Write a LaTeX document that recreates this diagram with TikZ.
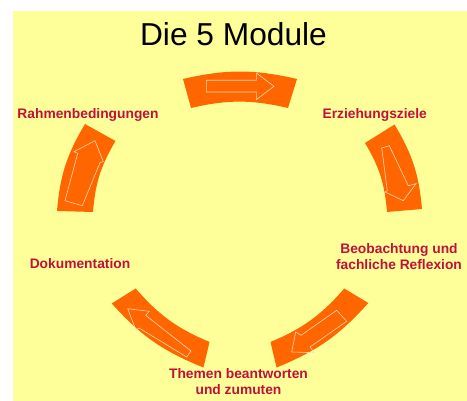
\documentclass[tikz,border=0pt]{standalone}
\usepackage{fontspec}
\usepackage{tikz}
\usetikzlibrary{positioning}
\setmainfont{Liberation Sans}
\definecolor{bgyellow}{HTML}{FFFF99}
\definecolor{arcorange}{HTML}{FF6600}
\definecolor{labelred}{HTML}{C0103C}
\definecolor{arrowline}{HTML}{FFD9B8}

\tikzset{
  band/.style={fill=arcorange},
  hollow/.style={draw=arrowline, line width=0.6pt},
  lbl/.style={text=labelred, font=\bfseries\fontsize{13.8}{16}\selectfont, align=center, inner sep=0pt, anchor=north},
}

\begin{document}
\begin{tikzpicture}[x=1pt,y=1pt]
\useasboundingbox (0,0) rectangle (467,-401);
\fill[white] (0,0) rectangle (467,-401);
\fill[bgyellow] (13,-11) rectangle (467,-401);

% title
\node[font=\fontsize{31.7}{36}\selectfont, inner sep=0pt, anchor=north] (title) at (233.5,-22.5) {Die 5 Module};

% top arc
\fill[band] (183,-79) to[bend left=13] (297,-79) -- (288,-108) to[bend right=13] (191,-108) -- cycle;
\draw[hollow] (206.3,-80.3) -- (256.3,-80.3) -- (256.3,-73) -- (274,-86.3) -- (256.3,-99.7) -- (256.3,-92) -- (206.3,-92) -- cycle;

% upper right arc
\fill[band] (394.5,-124.5) to[bend left=13] (422,-209) -- (387,-212) to[bend right=13] (365,-143) -- cycle;
\draw[hollow] (381.7,-148) -- (389.3,-145.7) -- (408.3,-185.7) -- (416,-183.7) -- (403.3,-200.7) -- (385,-192) -- (387.3,-190.7) -- cycle;

% lower right arc
\fill[band] (368.3,-303) to[bend left=13] (276.5,-367.5) -- (270.5,-342) to[bend right=13] (344.3,-288.5) -- cycle;
\draw[hollow] (336.7,-310.3) -- (346.7,-321.3) -- (310,-347) -- (314.3,-352.7) -- (291.7,-352) -- (295.7,-332) -- (301,-335.3) -- cycle;

% lower left arc
\fill[band] (203.5,-367.5) to[bend left=13] (111.7,-303.5) -- (135.7,-288.5) to[bend right=13] (209.5,-342) -- cycle;
\draw[hollow] (127.7,-308.7) -- (149.3,-311.3) -- (145.7,-315.3) -- (191,-351) -- (186.7,-357) -- (139,-328) -- (136,-330.3) -- cycle;

% upper left arc
\fill[band] (57,-211) to[bend left=13] (85,-124) -- (115.5,-141) to[bend right=13] (93,-212) -- cycle;
\draw[hollow] (95,-140.7) -- (103.3,-161.7) -- (100,-162.7) -- (82.3,-205.7) -- (65,-200.7) -- (77.7,-153.3) -- (74,-151.7) -- cycle;

% labels
\node[lbl] (rahmen) at (88,-108) {Rahmenbedingungen};
\node[lbl] (ziele) at (374.7,-108.2) {Erziehungsziele};
\node[lbl] (beob) at (399,-243.2) {Beobachtung und\\fachliche Reflexion};
\node[lbl] (doku) at (80,-258.2) {Dokumentation};
\node[lbl] (themen) at (238.5,-368.2) {Themen beantworten\\und zumuten};
\end{tikzpicture}
\end{document}
